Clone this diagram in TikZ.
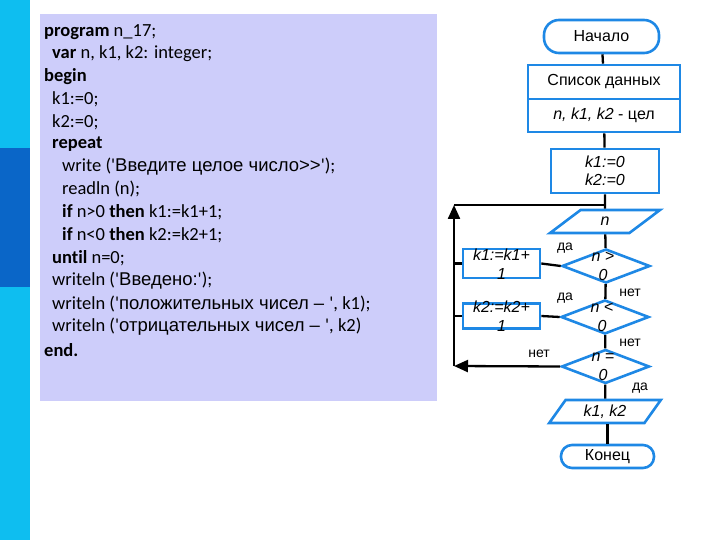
\documentclass[tikz,border=0pt]{standalone}
\usepackage{fontspec}
\setmainfont{Carlito}[Ligatures=NoCommon]
\newfontfamily\arialf{Liberation Sans}
\usetikzlibrary{shapes.geometric,arrows.meta}
\definecolor{barcyan}{RGB}{14,190,240}
\definecolor{bardark}{RGB}{10,102,200}
\definecolor{codebg}{RGB}{205,205,250}
\definecolor{fblue}{RGB}{30,136,229}
\newcommand{\qq}{\textquotesingle}
\tikzset{
  codeline/.style={anchor=west, inner sep=0pt, font=\fontsize{18.5}{20}\selectfont},
  fcbox/.style={draw=fblue, line width=2.6pt, fill=white, inner sep=0pt, font=\arialf\fontsize{16}{18}\selectfont},
  term/.style={fcbox, rounded corners=15pt},
  iobox/.style={fcbox, trapezium, trapezium stretches=true, trapezium left angle=57, trapezium right angle=123},
  decis/.style={fcbox, diamond, minimum width=88pt, minimum height=34pt, aspect=2.6},
  dtext/.style={inner sep=0pt, align=center, font=\arialf\itshape\fontsize{16}{19}\selectfont},
  lbl/.style={inner sep=0pt, font=\arialf\fontsize{14}{15}\selectfont},
  conn/.style={line width=2.3pt, black},
  arr/.style={conn, -{Triangle[length=14pt,width=12pt]}}
}
\begin{document}
\begin{tikzpicture}[x=1pt,y=-1pt]
\useasboundingbox (0,0) rectangle (720,540);
% left bar
\fill[barcyan] (0,0) rectangle (30,540);
\fill[bardark] (0,148) rectangle (30,287);
% code panel
\fill[codebg] (40,14) rectangle (437,401);
\node[codeline] (l1) at (44,32) {\textbf{program} n\_17;};
\node[codeline] (l2) at (52,54) {\textbf{var} n, k1, k2: integer;};
\node[codeline] (l3) at (44,77) {\textbf{begin}};
\node[codeline] (l4) at (52,99) {k1:=0;};
\node[codeline] (l5) at (52,122) {k2:=0;};
\node[codeline] (l6) at (52,144) {\textbf{repeat}};
\node[codeline] (l7) at (62,167) {write (\qq{\arialf Введите целое число>>}\qq);};
\node[codeline] (l8) at (62,189) {readln (n);};
\node[codeline] (l9) at (62,212) {\textbf{if} n>0 \textbf{then} k1:=k1+1;};
\node[codeline] (l10) at (62,235) {\textbf{if} n<0 \textbf{then} k2:=k2+1;};
\node[codeline] (l11) at (52,258) {\textbf{until} n=0;};
\node[codeline] (l12) at (52,281) {writeln (\qq{\arialf Введено:}\qq);};
\node[codeline] (l13) at (52,304) {writeln (\qq{\arialf положительных чисел – }\qq, k1);};
\node[codeline] (l14) at (52,327) {writeln (\qq{\arialf отрицательных чисел – }\qq, k2)};
\node[codeline] (l15) at (44,350) {\textbf{end.}};
% flowchart
\coordinate (loopTop) at (605,205);
\coordinate (loopL) at (454,205);
\coordinate (loopB) at (454,366);
\node[term, minimum width=115pt, minimum height=33pt] (start) at (601.5,36.5) {Начало};
\node[fcbox, minimum width=152pt, minimum height=34pt] (list) at (604,82) {Список данных};
\node[fcbox, minimum width=152pt, minimum height=33pt] (vars) at (604,115.5) {\itshape n, k1, k2 \upshape - цел};
\node[fcbox, minimum width=108pt, minimum height=44pt, align=center, font=\arialf\itshape\fontsize{16}{18}\selectfont] (init) at (605,171) {k1:=0\\k2:=0};
\node[iobox, minimum width=110pt, minimum height=23pt, font=\arialf\itshape\fontsize{16}{18}\selectfont] (inp) at (605,221.5) {n};
\node[decis] (d1) at (606,266) {};
\node[dtext] (d1t) at (603,266.5) {n >\\0};
\node[decis] (d2) at (605,317) {};
\node[dtext] (d2t) at (602,317.5) {n <\\0};
\node[decis] (d3) at (605.5,366.5) {};
\node[dtext] (d3t) at (603,366.5) {n =\\0};
\node[fcbox, minimum width=77pt, minimum height=29pt] (a1) at (501.5,263.5) {};
\node[dtext] (a1t) at (501.5,264) {k1:=k1+\\1};
\node[fcbox, minimum width=77pt, minimum height=25pt] (a2) at (501.5,316) {};
\node[dtext] (a2t) at (501.5,316.5) {k2:=k2+\\1};
\node[iobox, minimum width=112pt, minimum height=23pt, font=\arialf\itshape\fontsize{16}{18}\selectfont] (out) at (605,411.5) {k1, k2};
\node[term, minimum width=93pt, minimum height=23pt, rounded corners=11pt] (fin) at (607.5,456.5) {Конец};
% connectors
\draw[conn] (start) -- (list);
\draw[conn] (vars) -- (init);
\draw[conn] (init) -- (inp);
\draw[conn] (inp) -- (d1);
\draw[conn] (d1) -- (d2);
\draw[conn] (d2) -- (d3);
\draw[conn] (d3) -- (out);
\draw[conn] (out.south -| fin.north) -- (fin);
\draw[conn] (d1.west) -- (a1.east);
\draw[conn] (d2.west) -- (a2.east);
\draw[conn] (a1.west) -- (a1.west -| loopL);
\draw[conn] (a2.west) -- (a2.west -| loopL);
\draw[arr] (d3.west) -- (loopB);
\draw[arr] (loopB) -- (loopL);
\draw[conn] (loopL) -- (loopTop);
% labels
\node[lbl] (da1) at (565,248) {да};
\node[lbl] (da2) at (565,298) {да};
\node[lbl] (net1) at (630,293) {нет};
\node[lbl] (net2) at (630,343) {нет};
\node[lbl] (net3) at (539,354) {нет};
\node[lbl] (da3) at (640,388) {да};
\end{tikzpicture}
\end{document}
